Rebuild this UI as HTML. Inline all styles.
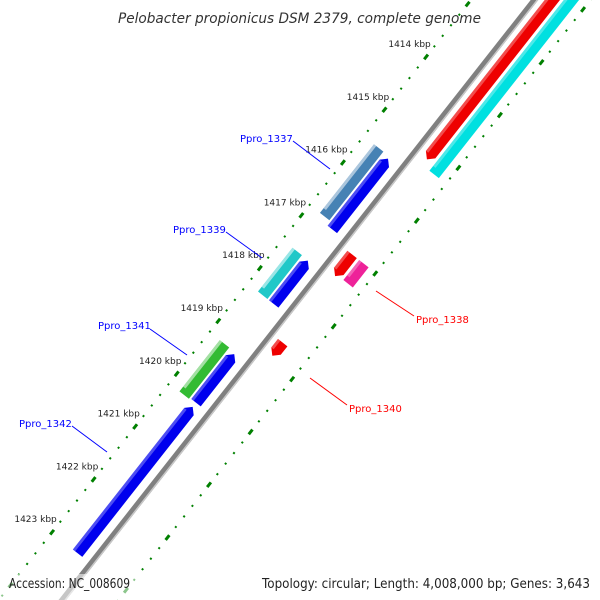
<!DOCTYPE html>
<html><head><meta charset="utf-8"><style>
html,body{margin:0;padding:0;background:#fff;width:600px;height:600px;overflow:hidden;}
svg{display:block;font-family:"DejaVu Sans","Liberation Sans",sans-serif;}
</style></head><body>
<svg id="map" width="600" height="600" viewBox="0 0 600 600">
<text x="118" y="23" textLength="363" lengthAdjust="spacingAndGlyphs" font-size="14" font-style="italic" fill="#333">Pelobacter propionicus DSM 2379, complete genome</text>
<g id="rot" transform="translate(534.5,0) rotate(128.2)"></g>
<g font-size="10">
<line x1="293" y1="141" x2="330" y2="169" stroke="#00f" stroke-width="1"/>
<text x="240" y="142" fill="#00f">Ppro_1337</text>
<line x1="226" y1="232" x2="262" y2="258" stroke="#00f" stroke-width="1"/>
<text x="173" y="233" fill="#00f">Ppro_1339</text>
<line x1="150" y1="329" x2="187" y2="355" stroke="#00f" stroke-width="1"/>
<text x="98" y="329" fill="#00f">Ppro_1341</text>
<line x1="72" y1="426" x2="107" y2="452" stroke="#00f" stroke-width="1"/>
<text x="19" y="427" fill="#00f">Ppro_1342</text>
<line x1="376" y1="291" x2="414" y2="316" stroke="#f00" stroke-width="1"/>
<text x="416" y="323" fill="#f00">Ppro_1338</text>
<line x1="310" y1="378" x2="347" y2="405" stroke="#f00" stroke-width="1"/>
<text x="349" y="412" fill="#f00">Ppro_1340</text>
</g>
<rect x="0" y="574" width="600" height="26" fill="#fff" opacity="0.55"/>
<text x="9" y="588" textLength="121" lengthAdjust="spacingAndGlyphs" font-size="13" fill="#222">Accession: NC_008609</text>
<text x="262" y="588" textLength="328" lengthAdjust="spacingAndGlyphs" font-size="13" fill="#222">Topology: circular; Length: 4,008,000 bp; Genes: 3,643</text>
</svg>
<script>
// data (bp positions, kbp)
const tickKbp = [1414,1415,1416,1417,1418,1419,1420,1421,1422,1423];
const geneNames = ['g1','g2','g3','Ppro_1342','Ppro_1337','Ppro_1339','Ppro_1341','g8','Ppro_1338','Ppro_1340','g11','g12'];
const geneStart = [1415.54,1417.47,1419.24,1420.24,1415.50,1417.46,1419.21,1409.0,1416.99,1418.66,1409.0,1416.99];
const geneEnd   = [1416.88,1418.29,1420.16,1423.01,1416.80,1418.29,1420.18,1415.19,1417.40,1418.91,1415.30,1417.37];
const geneTrack = [1,1,1,1,2,2,2,-1,-1,-1,-2,-2];
const geneColor = ['#0000ee','#0000ee','#0000ee','#0000ee','#4682b4','#20c8c8','#33bb33','#ee0000','#ee0000','#ee0000','#00e0e0','#ee2299'];
const geneArrow = [-1,-1,-1,-1,0,0,0,1,1,1,0,0];

const NS='http://www.w3.org/2000/svg';
const g=document.getElementById('rot');
function uPos(kbp){return 111.8+(kbp-1414)*67.2;}
function vTrack(t){return t===1?17:t===2?31:t===-1?-14:-29;}
function mk(tag,attrs){const e=document.createElementNS(NS,tag);for(const k in attrs)e.setAttribute(k,attrs[k]);return e;}

const bb=mk('rect',{x:-60,y:-3,width:900,height:6,fill:'#808080'});


g.appendChild(bb);
g.appendChild(mk('rect',{x:-60,y:-3,width:900,height:1.5,fill:'#c8c8c8'}));

[50,-44].forEach((v,li)=>{
  for(let k=1408;k<=1426;k+=0.2){
    const u=uPos(k);
    const isTick=Math.abs(k-Math.round(k))<0.01;
    const d=mk('rect',isTick?{x:u-3,y:v-1.5,width:6,height:3,fill:'#008000'}:{x:u-1,y:v-1,width:2,height:2,fill:'#008000'});
    
    
    g.appendChild(d);
  }
});

tickKbp.forEach(k=>{
  const u=uPos(k), v=71;
  const a=128.2*Math.PI/180;
  const x=534.5+u*Math.cos(a)-v*Math.sin(a);
  const y=u*Math.sin(a)+v*Math.cos(a);
  const t=mk('text',{x:x,y:y+3,'text-anchor':'middle','font-size':'9',fill:'#222'});
  
  
  t.textContent=k+' kbp';
  document.getElementById('map').insertBefore(t,document.getElementById('rot'));
});

geneStart.forEach((s,i)=>{
  const u1=uPos(s),u2=uPos(geneEnd[i]),v=vTrack(geneTrack[i]),h=6,ah=6;
  let pts;
  if(geneArrow[i]===-1) pts=[[u1,v],[u1+ah,v-h],[u2,v-h],[u2,v+h],[u1+ah,v+h]];
  else if(geneArrow[i]===1) pts=[[u1,v-h],[u2-ah,v-h],[u2,v],[u2-ah,v+h],[u1,v+h]];
  else pts=[[u1,v-h],[u2,v-h],[u2,v+h],[u1,v+h]];
  const p=mk('polygon',{points:pts.map(q=>q.join(',')).join(' '),fill:geneColor[i]});
  
  
  g.appendChild(p);
  const hl=mk('rect',{x:u1+(geneArrow[i]===-1?ah:0),y:v+h-3,width:Math.max(0,u2-u1-ah),height:3,fill:'#fff',opacity:geneTrack[i]===2?0.55:0.3});
  
  
  g.appendChild(hl);
});
</script>
</body></html>
